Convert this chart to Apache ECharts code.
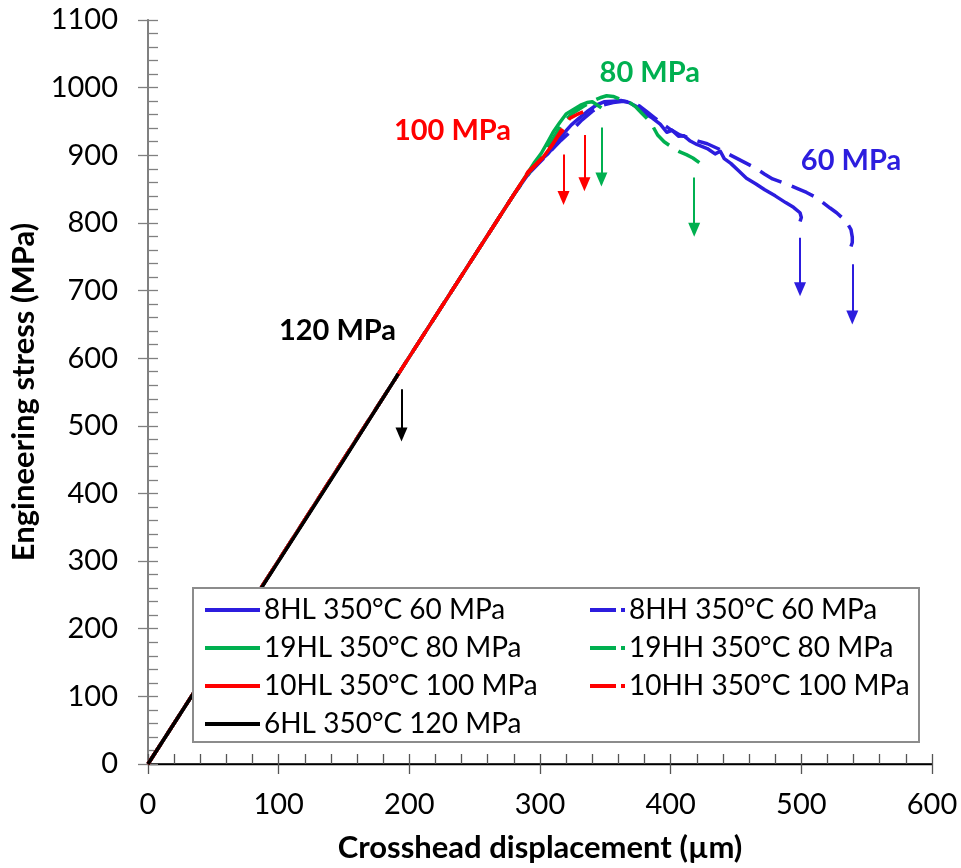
<!DOCTYPE html>
<html><head><meta charset="utf-8">
<script src="https://cdn.jsdelivr.net/npm/echarts@6/dist/echarts.min.js"></script>
<style>html,body{margin:0;padding:0;background:#fff}#c{width:961px;height:868px}</style>
</head><body><div id="c"></div>
<script>
// ---- data (crosshead displacement in µm, engineering stress in MPa) ----
const hl8X = [0,100,200,280,292,300,306,312,318,324,330,337,343,349,356,362,368,374,380,386,392,397,401,406,410,415,420,428,434,438,441,446,452,458,465,472,480,488,494,499,500,499];
const hl8Y = [0,301,602,842,875,892,902,916,932,945,955,966,974,979,980,981,978,972,962,955,946,934,937,928,929,921,916,910,902,906,895,888,877,866,858,849,840,830,823,815,808,802];
const hh8X = [0,100,200,280,292,300,308,316,324,332,340,348,356,364,370,376,382,388,394,400,407,414,421,428,436,444,451,458,465,472,478,485,492,498,504,510,516,522,527,531,535,538,539,539,538];
const hh8Y = [0,301,602,842,874,890,906,922,936,952,965,974,978,980,978,973,964,955,946,938,930,926,921,917,910,902,895,888,881,872,865,860,855,850,845,839,831,822,815,808,800,790,779,771,765];
const hl19X = [0,100,200,280,290,296,301,306,310,315,320,325,331,336,340,344,347];
const hl19Y = [0,301,602,842,872,890,903,920,934,948,961,967,974,978,979,974,970];
const hh19X = [0,100,200,280,290,297,304,311,318,325,333,340,346,351,356,361,368,373,377,382,386,390,395,401,407,412,417,422,426];
const hh19Y = [0,301,602,842,870,888,906,928,950,962,972,980,985,988,987,983,979,972,964,954,944,930,920,912,905,901,896,889,882];
const hl10X = [0,100,200,270,285,291,296,302,308,313,318];
const hl10Y = [0,301,602,812,857,874,884,896,912,926,938];
const hh10X = [0,100,200,270,285,291,297,303,309,314,319,323,328,333];
const hh10Y = [0,301,602,812,857,876,887,899,914,930,945,955,960,964];
const hl6X = [0,50,100,150,190,191.5];
const hl6Y = [0,150,300,450,572,577];

const seriesNames = ['8HL 350°C 60 MPa','8HH 350°C 60 MPa','19HL 350°C 80 MPa','19HH 350°C 80 MPa','10HL 350°C 100 MPa','10HH 350°C 100 MPa','6HL 350°C 120 MPa'];

// failure arrows
const arrowX      = [194, 318, 334, 347, 418, 499, 539];
const arrowTop    = [554, 901, 930, 941, 867, 778, 739];
const arrowBottom = [487, 837, 857, 864, 790, 702, 660];
const arrowGroup  = ['k','r','r','g','g','b','b'];

// stress labels
const labelText = ['120 MPa','100 MPa','80 MPa','60 MPa'];
const labelX    = [145, 233, 384, 538];
const labelY    = [641, 936, 1022, 892];
const labelGroup= ['k','r','g','b'];

const xMin = 0, xMax = 600, xStep = 100;
const yMin = 0, yMax = 1100, yStep = 100;

// ---- styles ----
const COL = {b:'#2C1DDE', g:'#00B050', r:'#FF0000', k:'#000000'};
const FONT = 'Lato';
const zip = (xs, ys) => xs.map((x,i)=>[x, ys[i]]);
const DASH = [24, 11];

function lineSeries(name, xs, ys, color, dashed, z) {
  return {
    name, type:'line', data: zip(xs, ys), showSymbol:false, symbol:'none',
    z, animation:false, silent:true,
    lineStyle:{color, width:3.5, type: dashed ? DASH : 'solid', cap:'butt', join:'round'},
    itemStyle:{color}
  };
}

const series = [
  lineSeries(seriesNames[0], hl8X, hl8Y, COL.b, false, 2),
  lineSeries(seriesNames[1], hh8X, hh8Y, COL.b, true, 2),
  lineSeries(seriesNames[2], hl19X, hl19Y, COL.g, false, 2),
  lineSeries(seriesNames[3], hh19X, hh19Y, COL.g, true, 2),
  lineSeries(seriesNames[5], hh10X, hh10Y, COL.r, true, 2),
  lineSeries(seriesNames[4], hl10X, hl10Y, COL.r, false, 2),
  lineSeries(seriesNames[6], hl6X, hl6Y, COL.k, false, 2),
  {
    name:'annotations', type:'line', data:[], animation:false, silent:true, z:2,
    markLine:{
      silent:true, animation:false,
      symbol:['none','triangle'], symbolSize:[12,14],
      label:{show:false},
      data: arrowX.map((x,i)=>[
        {coord:[x, arrowTop[i]], lineStyle:{color:COL[arrowGroup[i]], width:2, type:'solid'}, itemStyle:{color:COL[arrowGroup[i]]}},
        {coord:[x, arrowBottom[i]]}
      ])
    },
    markPoint:{
      silent:true, animation:false,
      symbol:'circle', symbolSize:1, itemStyle:{color:'rgba(0,0,0,0)'},
      data: labelText.map((t,i)=>({
        coord:[labelX[i], labelY[i]], value:t,
        label:{show:true, position:'inside', formatter:t, color:COL[labelGroup[i]],
               fontFamily:FONT, fontWeight:'bold', fontSize:29}
      }))
    }
  }
];

const tickLabel = {color:'#000', fontFamily:FONT, fontSize:29, formatter:(v)=>String(v)};
const gridPos = {left:148, right:29, top:20, bottom:103};
const nameStyle = {color:'#000', fontFamily:FONT, fontWeight:'bold', fontSize:31};

const legendCommon = {
  orient:'vertical', top:590, itemHeight:14, itemGap:8, selectedMode:false, z:5,
  itemStyle:{opacity:0},
  textStyle:{color:'#000', fontFamily:FONT, fontSize:28, lineHeight:30, padding:[0,0,0,-1]}
};

const option = {
  backgroundColor:'#fff',
  animation:false,
  grid: gridPos,
  xAxis: [
    { type:'value', min:xMin, max:xMax, interval:xStep, position:'bottom',
      name:'Crosshead displacement (µm)', nameLocation:'middle', nameGap:68,
      nameTextStyle:nameStyle,
      axisLine:{show:true, lineStyle:{color:'#000', width:1.3}},
      axisTick:{show:true, inside:true, length:10, lineStyle:{color:'#555', width:1.3}},
      minorTick:{show:true, splitNumber:5, length:10, lineStyle:{color:'#555', width:1.3}},
      axisLabel:{...tickLabel, margin:26},
      splitLine:{show:false}, minorSplitLine:{show:false} },
    { type:'value', min:xMin, max:xMax, interval:xStep, position:'bottom',
      axisLine:{show:false}, axisTick:{show:true, inside:false, length:10, lineStyle:{color:'#555', width:1.3}},
      axisLabel:{show:false}, splitLine:{show:false} },
    { type:'value', min:xMin, max:xMax, interval:xStep, position:'top',
      axisLine:{show:true, lineStyle:{color:'#000', width:1.5}}, axisTick:{show:false},
      axisLabel:{show:false}, splitLine:{show:false} }
  ],
  yAxis: [
    { type:'value', min:yMin, max:yMax, interval:yStep, position:'left',
      name:'Engineering stress (MPa)', nameLocation:'middle', nameGap:109,
      nameTextStyle:nameStyle,
      axisLine:{show:true, lineStyle:{color:'#808080', width:1.5}},
      axisTick:{show:true, inside:true, length:10, lineStyle:{color:'#808080', width:1.3}},
      minorTick:{show:true, splitNumber:5, length:10, lineStyle:{color:'#808080', width:1.3}},
      axisLabel:{...tickLabel, margin:30},
      splitLine:{show:false}, minorSplitLine:{show:false} },
    { type:'value', min:yMin, max:yMax, interval:yStep, position:'left',
      axisLine:{show:false}, axisTick:{show:true, inside:false, length:10, lineStyle:{color:'#808080', width:1.3}},
      axisLabel:{show:false}, splitLine:{show:false} },
    { type:'value', min:yMin, max:yMax, interval:yStep, position:'right',
      axisLine:{show:true, lineStyle:{color:'#808080', width:2}}, axisTick:{show:false},
      axisLabel:{show:false}, splitLine:{show:false} }
  ],
  graphic: [
    { type:'rect', z:3, shape:{x:193, y:588, width:726, height:154},
      style:{fill:'#fff', stroke:'#8c8c8c', lineWidth:2}, silent:true }
  ],
  legend: [
    { ...legendCommon, left:198, itemWidth:55, lineStyle:{width:4},
      data:[seriesNames[0], seriesNames[2], seriesNames[4], seriesNames[6]] },
    { ...legendCommon, left:583, itemWidth:35, lineStyle:{type:[26,5], width:4},
      data:[seriesNames[1], seriesNames[3], seriesNames[5]] }
  ],
  series
};

const chart = echarts.init(document.getElementById('c'), null, {renderer:'canvas'});
chart.setOption(option);
</script>
</body></html>
